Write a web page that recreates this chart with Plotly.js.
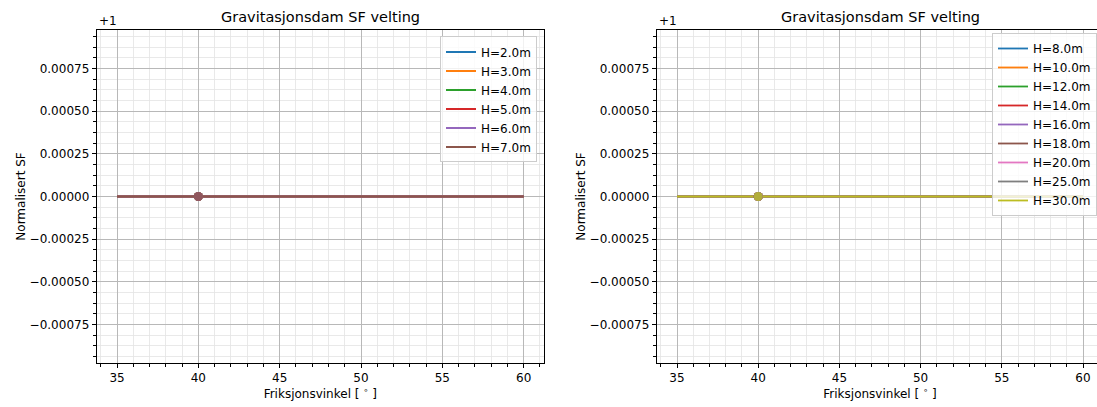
<!DOCTYPE html>
<html><head><meta charset="utf-8">
<script src="https://cdn.plot.ly/plotly-3.0.1.min.js"></script>
<style>html,body{margin:0;padding:0;overflow:hidden;background:#fff}</style>
</head><body><div id="chart"></div>
<script>
// ---- data ----
const frictionAngle = [35, 40, 45, 50, 55, 60];   // Friksjonsvinkel [deg]
const markedAngle = 40;                            // highlighted point

const leftLabels  = ['H=2.0m', 'H=3.0m', 'H=4.0m', 'H=5.0m', 'H=6.0m', 'H=7.0m'];
const sf_H2  = [1, 1, 1, 1, 1, 1];
const sf_H3  = [1, 1, 1, 1, 1, 1];
const sf_H4  = [1, 1, 1, 1, 1, 1];
const sf_H5  = [1, 1, 1, 1, 1, 1];
const sf_H6  = [1, 1, 1, 1, 1, 1];
const sf_H7  = [1, 1, 1, 1, 1, 1];

const rightLabels = ['H=8.0m', 'H=10.0m', 'H=12.0m', 'H=14.0m', 'H=16.0m', 'H=18.0m', 'H=20.0m', 'H=25.0m', 'H=30.0m'];
const sf_H8  = [1, 1, 1, 1, 1, 1];
const sf_H10 = [1, 1, 1, 1, 1, 1];
const sf_H12 = [1, 1, 1, 1, 1, 1];
const sf_H14 = [1, 1, 1, 1, 1, 1];
const sf_H16 = [1, 1, 1, 1, 1, 1];
const sf_H18 = [1, 1, 1, 1, 1, 1];
const sf_H20 = [1, 1, 1, 1, 1, 1];
const sf_H25 = [1, 1, 1, 1, 1, 1];
const sf_H30 = [1, 1, 1, 1, 1, 1];

const leftSeries  = [sf_H2, sf_H3, sf_H4, sf_H5, sf_H6, sf_H7];
const rightSeries = [sf_H8, sf_H10, sf_H12, sf_H14, sf_H16, sf_H18, sf_H20, sf_H25, sf_H30];

const xTickVals = [35, 40, 45, 50, 55, 60];
const yOffset = 1;
const yTickOffsets = [-0.00075, -0.0005, -0.00025, 0, 0.00025, 0.0005, 0.00075];
const yTickLabels  = ['\u22120.00075', '\u22120.00050', '\u22120.00025', '0.00000', '0.00025', '0.00050', '0.00075'];

const chartTitle = 'Gravitasjonsdam SF velting';
const xTitle = 'Friksjonsvinkel [ <sup>\u2218</sup> ]';
const yTitle = 'Normalisert SF';

// ---- styling ----
const colors = ['#1f77b4', '#ff7f0e', '#2ca02c', '#d62728', '#9467bd', '#8c564b', '#e377c2', '#7f7f7f', '#bcbd22'];
const W = 1104, H = 407;
const FONT = 'DejaVu Sans, Liberation Sans, sans-serif';
const FS = 12;
const px = v => v / W;

const traces = [];
function addGroup(series, labels, xa, ya, legendId) {
  series.forEach((s, i) => {
    traces.push({
      x: frictionAngle, y: s, type: 'scatter', mode: 'lines', name: labels[i],
      xaxis: xa, yaxis: ya, legend: legendId,
      line: {color: colors[i], width: 1.8}
    });
  });
  series.forEach((s, i) => {
    const idx = frictionAngle.indexOf(markedAngle);
    traces.push({
      x: [frictionAngle[idx]], y: [s[idx]], type: 'scatter', mode: 'markers',
      xaxis: xa, yaxis: ya, showlegend: false, hoverinfo: 'skip',
      marker: {color: colors[i], size: 9, opacity: 0.75}
    });
  });
}
addGroup(leftSeries, leftLabels, 'x', 'y', 'legend');
addGroup(rightSeries, rightLabels, 'x2', 'y2', 'legend2');

const yHalf = 0.000976;
function xAxis(domain, anchor) {
  return {
    domain: domain, anchor: anchor, range: [33.75, 61.25],
    tickmode: 'array', tickvals: xTickVals, ticks: 'outside', ticklen: 4, tickwidth: 1, tickcolor: '#000',
    showline: true, linecolor: '#000', linewidth: 1, mirror: true,
    showgrid: true, gridcolor: '#b8b8b8', gridwidth: 1, zeroline: false,
    minor: {dtick: 1, showgrid: true, gridcolor: '#e4e4e4', gridwidth: 0.8, ticks: 'outside', ticklen: 2.5, tickcolor: '#000'},
    tickfont: {family: FONT, size: FS, color: '#000'},
    title: {text: xTitle, font: {family: FONT, size: FS, color: '#000'}, standoff: 4},
    automargin: false
  };
}
function yAxis(anchor) {
  return {
    anchor: anchor, range: [yOffset - yHalf, yOffset + yHalf],
    tickmode: 'array', tickvals: yTickOffsets.map(v => yOffset + v), ticktext: yTickLabels,
    ticks: 'outside', ticklen: 4, tickwidth: 1, tickcolor: '#000',
    showline: true, linecolor: '#000', linewidth: 1, mirror: true,
    showgrid: true, gridcolor: '#b8b8b8', gridwidth: 1, zeroline: false,
    minor: {dtick: 0.0000625, tick0: yOffset, showgrid: true, gridcolor: '#e4e4e4', gridwidth: 0.8, ticks: 'outside', ticklen: 2.5, tickcolor: '#000'},
    tickfont: {family: FONT, size: FS, color: '#000'},
    title: {text: yTitle, font: {family: FONT, size: FS, color: '#000'}},
    automargin: false
  };
}

const dom1 = [px(96.7), px(544)];
const dom2 = [px(656.7), px(1103.3)];
const legendStyle = {
  bgcolor: 'rgba(255,255,255,0.8)', bordercolor: '#cccccc', borderwidth: 1,
  font: {family: FONT, size: FS, color: '#000'}, xanchor: 'right', yanchor: 'top',
  tracegroupgap: 0, itemwidth: 30
};
const plotTop = 30, plotBot = 363.5;
const yPaper = pxY => 1 - (pxY - plotTop) / (plotBot - plotTop);

const titleFont = {family: FONT, size: 14.5, color: '#000'};
const layout = {
  width: W, height: H,
  margin: {l: 0, r: 0, t: plotTop, b: H - plotBot, pad: 0},
  paper_bgcolor: '#fff', plot_bgcolor: '#fff',
  showlegend: true,
  xaxis: xAxis(dom1, 'y'), yaxis: yAxis('x'),
  xaxis2: xAxis(dom2, 'y2'), yaxis2: yAxis('x2'),
  legend: Object.assign({x: px(537), y: yPaper(36.5)}, legendStyle),
  legend2: Object.assign({x: px(1097), y: yPaper(33)}, legendStyle),
  annotations: [
    {text: chartTitle, xref: 'paper', yref: 'paper', x: (dom1[0] + dom1[1]) / 2, y: yPaper(16.5), xanchor: 'center', yanchor: 'middle', showarrow: false, font: titleFont},
    {text: chartTitle, xref: 'paper', yref: 'paper', x: (dom2[0] + dom2[1]) / 2, y: yPaper(16.5), xanchor: 'center', yanchor: 'middle', showarrow: false, font: titleFont},
    {text: '+1', xref: 'paper', yref: 'paper', x: dom1[0], y: yPaper(21), xanchor: 'left', yanchor: 'middle', showarrow: false, font: {family: FONT, size: FS, color: '#000'}},
    {text: '+1', xref: 'paper', yref: 'paper', x: dom2[0], y: yPaper(21), xanchor: 'left', yanchor: 'middle', showarrow: false, font: {family: FONT, size: FS, color: '#000'}}
  ]
};

Plotly.newPlot('chart', traces, layout, {displayModeBar: false, responsive: false, staticPlot: true});
</script>
</body></html>
